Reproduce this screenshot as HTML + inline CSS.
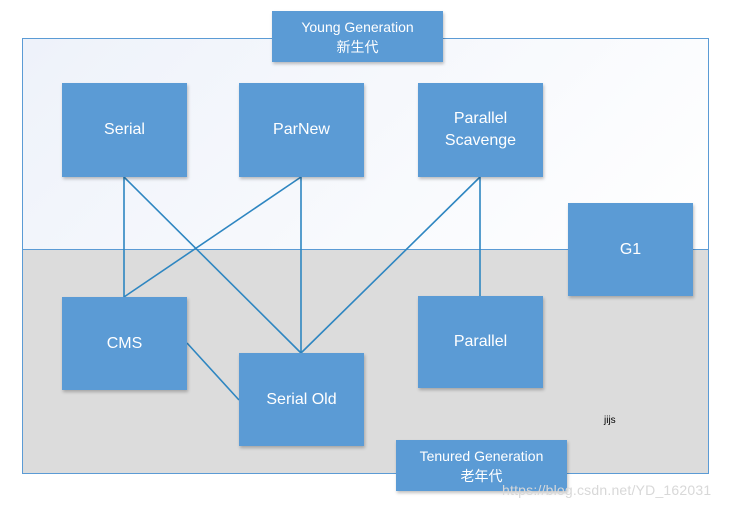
<!DOCTYPE html>
<html><head><meta charset="utf-8"><style>
body{margin:0;width:735px;height:510px;background:#fff;position:relative;overflow:hidden;font-family:"Liberation Sans","Noto Sans CJK SC",sans-serif}
.b{position:absolute;background:#5b9bd5;color:#fff;display:flex;align-items:center;justify-content:center;text-align:center;font-size:16px;line-height:22px;box-shadow:1px 2px 3px rgba(0,0,0,.25)}
.s{font-size:14px;line-height:20px}
</style></head><body>
<div style="position:absolute;left:22px;top:38px;width:685px;height:211px;border:1px solid #5b9bd5;border-bottom:none;background:linear-gradient(135deg,#eef2fa,#fff)"></div>
<div style="position:absolute;left:22px;top:249px;width:685px;height:223px;border:1px solid #5b9bd5;background:#dcdcdc"></div>
<svg width="735" height="510" style="position:absolute;left:0;top:0" stroke="#2e86c1" stroke-width="1.6" fill="none">
<line x1="124" y1="177" x2="124" y2="297"/><line x1="124" y1="177" x2="301" y2="353"/>
<line x1="301" y1="177" x2="124" y2="297"/><line x1="301" y1="177" x2="301" y2="353"/>
<line x1="480" y1="177" x2="301" y2="353"/><line x1="480" y1="177" x2="480" y2="296"/>
<line x1="187" y1="343" x2="239" y2="400"/></svg>
<div class="b s" style="left:272px;top:11px;width:171px;height:51px">Young Generation<br>新生代</div>
<div class="b" style="left:62px;top:83px;width:125px;height:94px">Serial</div>
<div class="b" style="left:239px;top:83px;width:125px;height:94px">ParNew</div>
<div class="b" style="left:418px;top:83px;width:125px;height:94px">Parallel<br>Scavenge</div>
<div class="b" style="left:568px;top:203px;width:125px;height:93px">G1</div>
<div class="b" style="left:62px;top:297px;width:125px;height:93px">CMS</div>
<div class="b" style="left:418px;top:296px;width:125px;height:92px">Parallel</div>
<div class="b" style="left:239px;top:353px;width:125px;height:93px">Serial Old</div>
<div class="b s" style="left:396px;top:440px;width:171px;height:51px">Tenured Generation<br>老年代</div>
<div style="position:absolute;left:604px;top:415px;font-size:10px;color:#000">jijs</div>
<div style="position:absolute;left:502px;top:482px;font-size:14px;color:#d8d8d8;letter-spacing:0.2px">https://blog.csdn.net/YD_162031</div>
</body></html>
